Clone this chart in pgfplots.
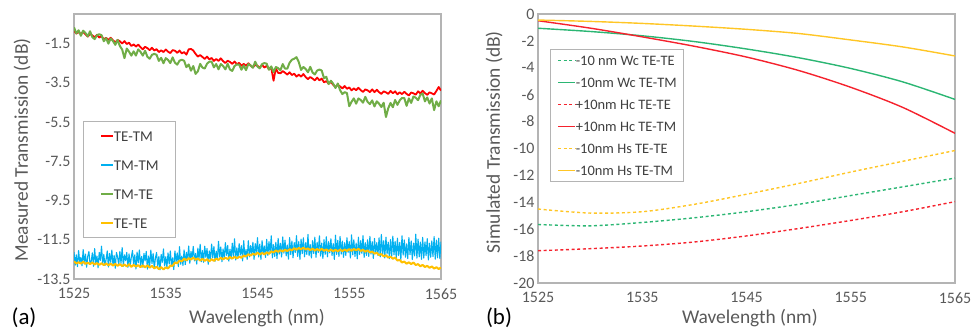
\documentclass[border=0pt]{standalone}
\usepackage{fontspec}
\setmainfont{Carlito}
\usepackage{pgfplots}
\usepackage{pgfplotstable}
\pgfplotsset{compat=1.18}
\definecolor{axgray}{HTML}{B4B4B4}
\definecolor{txgray}{HTML}{595959}
\definecolor{lgtext}{HTML}{404040}
\definecolor{cred}{HTML}{FF0000}
\definecolor{cblue}{HTML}{00B0F0}
\definecolor{cgreen}{HTML}{70AD47}
\definecolor{corange}{HTML}{FFC000}
\definecolor{bgreen}{HTML}{2BB673}
\definecolor{bred}{HTML}{F5222D}
\definecolor{byellow}{HTML}{FFC626}

\pgfplotstableread{
x r g o
1525.00 -0.84 -0.68 -12.60
1525.25 -1.00 -0.99 -12.71
1525.50 -0.92 -0.83 -12.65
1525.75 -1.02 -1.11 -12.71
1526.00 -0.91 -0.85 -12.62
1526.25 -1.04 -0.97 -12.73
1526.50 -1.15 -1.14 -12.67
1526.75 -1.02 -0.88 -12.74
1527.00 -1.09 -1.18 -12.66
1527.25 -1.19 -1.28 -12.76
1527.50 -1.06 -1.08 -12.69
1527.75 -1.20 -1.03 -12.78
1528.00 -1.12 -1.08 -12.70
1528.25 -1.29 -1.39 -12.79
1528.50 -1.21 -1.23 -12.71
1528.75 -1.32 -1.51 -12.80
1529.00 -1.21 -1.25 -12.72
1529.25 -1.34 -1.38 -12.82
1529.50 -1.45 -1.57 -12.73
1529.75 -1.32 -1.32 -12.83
1530.00 -1.39 -1.63 -12.74
1530.25 -1.50 -1.81 -12.84
1530.50 -1.38 -2.25 -12.76
1530.75 -1.53 -1.76 -12.86
1531.00 -1.46 -1.92 -12.75
1531.25 -1.63 -2.12 -12.88
1531.50 -1.55 -1.90 -12.78
1531.75 -1.66 -2.12 -12.87
1532.00 -1.56 -1.80 -12.79
1532.25 -1.69 -1.93 -12.90
1532.50 -1.80 -2.12 -12.80
1532.75 -1.67 -1.87 -12.91
1533.00 -1.74 -2.18 -12.80
1533.25 -1.84 -2.28 -12.92
1533.50 -1.72 -2.08 -12.83
1533.75 -1.86 -2.03 -12.96
1534.00 -1.79 -2.08 -12.87
1534.25 -1.94 -2.39 -13.00
1534.50 -1.85 -2.23 -12.90
1534.75 -1.94 -2.51 -13.01
1535.00 -1.81 -2.25 -12.91
1535.25 -1.92 -2.34 -12.96
1535.50 -1.99 -2.50 -12.82
1535.75 -1.84 -2.21 -12.83
1536.00 -1.87 -2.48 -12.66
1536.25 -1.98 -2.58 -12.70
1536.50 -1.86 -2.38 -12.56
1536.75 -2.01 -2.33 -12.60
1537.00 -1.94 -2.38 -12.46
1537.25 -2.07 -2.71 -12.55
1537.50 -1.80 -2.57 -12.44
1537.75 -1.78 -2.89 -12.51
1538.00 -1.86 -2.65 -12.41
1538.25 -2.03 -3.05 -12.52
1538.50 -2.17 -2.92 -12.45
1538.75 -2.09 -2.54 -12.56
1539.00 -2.19 -2.73 -12.47
1539.25 -2.29 -2.78 -12.58
1539.50 -2.17 -2.53 -12.49
1539.75 -2.31 -2.43 -12.60
1540.00 -2.24 -2.43 -12.49
1540.25 -2.39 -2.72 -12.58
1540.50 -2.29 -2.55 -12.46
1540.75 -2.39 -2.82 -12.53
1541.00 -2.26 -2.55 -12.42
1541.25 -2.40 -2.65 -12.50
1541.50 -2.50 -2.82 -12.41
1541.75 -2.38 -2.54 -12.48
1542.00 -2.44 -2.83 -12.38
1542.25 -2.54 -2.90 -12.46
1542.50 -2.42 -2.65 -12.37
1542.75 -2.56 -2.57 -12.45
1543.00 -2.49 -2.58 -12.36
1543.25 -2.64 -2.84 -12.42
1543.50 -2.54 -2.62 -12.30
1543.75 -2.64 -2.86 -12.35
1544.00 -2.51 -2.55 -12.24
1544.25 -2.63 -2.62 -12.31
1544.50 -2.72 -2.74 -12.21
1544.75 -2.59 -2.43 -12.27
1545.00 -2.64 -2.68 -12.16
1545.25 -2.73 -2.77 -12.25
1545.50 -2.59 -2.55 -12.17
1545.75 -2.73 -2.50 -12.25
1546.00 -2.64 -2.53 -12.14
1546.25 -2.82 -2.84 -12.22
1546.50 -2.74 -2.67 -12.09
1546.75 -3.40 -2.96 -12.15
1547.00 -2.76 -2.70 -12.04
1547.25 -3.00 -2.76 -12.12
1547.50 -3.02 -2.87 -12.03
1547.75 -2.91 -2.55 -12.10
1548.00 -2.99 -2.78 -12.01
1548.25 -3.09 -2.78 -12.08
1548.50 -2.97 -2.48 -11.98
1548.75 -3.11 -2.33 -12.04
1549.00 -3.04 -2.28 -11.93
1549.25 -3.19 -2.20 -12.01
1549.50 -3.09 -2.45 -11.92
1549.75 -3.19 -2.85 -11.99
1550.00 -3.06 -2.70 -11.90
1550.25 -3.21 -2.80 -12.00
1550.50 -3.32 -2.97 -11.94
1550.75 -3.21 -2.69 -12.03
1551.00 -3.29 -2.98 -11.95
1551.25 -3.38 -3.08 -12.05
1551.50 -3.24 -2.88 -11.97
1551.75 -3.38 -2.83 -12.05
1552.00 -3.29 -2.88 -11.96
1552.25 -3.48 -3.27 -12.06
1552.50 -3.42 -3.20 -11.99
1552.75 -3.55 -3.57 -12.08
1553.00 -3.46 -3.40 -12.00
1553.25 -3.61 -3.55 -12.09
1553.50 -3.72 -3.77 -12.01
1553.75 -3.61 -3.54 -12.09
1554.00 -3.69 -3.88 -12.00
1554.25 -3.79 -4.08 -12.08
1554.50 -3.67 -3.98 -12.00
1554.75 -3.81 -4.03 -12.07
1555.00 -3.74 -4.70 -11.98
1555.25 -3.89 -4.47 -12.06
1555.50 -3.79 -4.30 -11.97
1555.75 -3.88 -4.57 -12.04
1556.00 -3.76 -4.30 -11.96
1556.25 -3.88 -4.38 -12.07
1556.50 -3.97 -4.52 -12.01
1556.75 -3.84 -4.22 -12.11
1557.00 -3.89 -4.48 -12.04
1557.25 -3.98 -4.59 -12.15
1557.50 -3.84 -4.40 -12.10
1557.75 -3.98 -4.71 -12.21
1558.00 -3.86 -4.45 -12.16
1558.25 -3.98 -4.57 -12.28
1558.50 -4.07 -4.74 -12.23
1558.75 -3.94 -4.52 -12.35
1559.00 -3.99 -5.25 -12.29
1559.25 -4.07 -4.80 -12.41
1559.50 -3.92 -4.53 -12.36
1559.75 -4.04 -4.75 -12.47
1560.00 -3.94 -4.38 -12.41
1560.25 -4.09 -4.63 -12.56
1560.50 -3.99 -4.40 -12.53
1560.75 -4.08 -4.28 -12.66
1561.00 -3.96 -4.28 -12.61
1561.25 -4.07 -4.68 -12.72
1561.50 -4.15 -4.30 -12.65
1561.75 -4.00 -4.53 -12.74
1562.00 -4.04 -4.20 -12.66
1562.25 -4.11 -4.27 -12.79
1562.50 -3.94 -4.39 -12.74
1562.75 -4.05 -4.12 -12.85
1563.00 -3.91 -4.05 -12.78
1563.25 -4.03 -4.45 -12.89
1563.50 -4.12 -4.25 -12.83
1563.75 -3.99 -4.56 -12.93
1564.00 -4.04 -4.30 -12.86
1564.25 -4.10 -4.90 -12.97
1564.50 -3.92 -4.45 -12.90
1564.75 -3.72 -4.70 -12.99
1565.00 -3.90 -4.40 -12.92
}\measured

\pgfplotstableread{
x b
1525.000 -12.13
1525.125 -12.80
1525.250 -12.27
1525.375 -12.87
1525.500 -12.05
1525.625 -12.65
1525.750 -12.40
1525.875 -12.83
1526.000 -12.00
1526.125 -12.73
1526.250 -12.23
1526.375 -12.90
1526.500 -12.35
1526.625 -12.10
1526.750 -12.75
1526.875 -12.60
1527.000 -12.17
1527.125 -12.85
1527.250 -11.95
1527.375 -12.67
1527.500 -12.33
1527.625 -12.93
1527.750 -12.15
1527.875 -12.55
1528.000 -11.83
1528.125 -12.75
1528.250 -12.25
1528.375 -12.81
1528.500 -12.50
1528.625 -12.07
1528.750 -12.89
1528.875 -12.20
1529.000 -12.65
1529.125 -12.03
1529.250 -12.80
1529.375 -12.30
1529.500 -12.95
1529.625 -12.15
1529.750 -12.37
1529.875 -12.78
1530.000 -12.09
1530.125 -12.70
1530.250 -11.90
1530.375 -12.85
1530.500 -12.27
1530.625 -12.57
1530.750 -12.15
1530.875 -12.91
1531.000 -12.22
1531.125 -12.85
1531.250 -12.37
1531.375 -12.05
1531.500 -12.77
1531.625 -12.27
1531.750 -12.99
1531.875 -12.13
1532.000 -12.68
1532.125 -12.02
1532.250 -12.82
1532.375 -12.35
1532.500 -12.90
1532.625 -12.20
1532.750 -12.58
1532.875 -12.10
1533.000 -13.00
1533.125 -12.33
1533.250 -12.85
1533.375 -12.03
1533.500 -12.71
1533.625 -12.20
1533.750 -12.97
1533.875 -12.43
1534.000 -12.15
1534.125 -12.90
1534.250 -12.35
1534.375 -13.03
1534.500 -12.25
1534.625 -12.65
1534.750 -11.97
1534.875 -12.83
1535.000 -12.37
1535.125 -12.92
1535.250 -12.17
1535.375 -12.74
1535.500 -12.07
1535.625 -12.84
1535.750 -12.42
1535.875 -13.02
1536.000 -12.07
1536.125 -12.63
1536.250 -12.17
1536.375 -12.87
1536.500 -11.85
1536.625 -12.75
1536.750 -12.33
1536.875 -12.81
1537.000 -12.02
1537.125 -12.77
1537.250 -12.14
1537.375 -12.57
1537.500 -11.82
1537.625 -12.70
1537.750 -12.10
1537.875 -12.44
1538.000 -11.84
1538.125 -12.58
1538.250 -12.20
1538.375 -12.74
1538.500 -11.93
1538.625 -12.48
1538.750 -11.73
1538.875 -12.62
1539.000 -12.05
1539.125 -12.65
1539.250 -11.83
1539.375 -12.40
1539.500 -11.95
1539.625 -12.75
1539.750 -12.07
1539.875 -12.53
1540.000 -11.72
1540.125 -12.42
1540.250 -11.85
1540.375 -12.60
1540.500 -12.08
1540.625 -12.52
1540.750 -11.58
1540.875 -12.38
1541.000 -11.87
1541.125 -12.62
1541.250 -11.97
1541.375 -12.47
1541.500 -11.65
1541.625 -12.29
1541.750 -11.79
1541.875 -12.59
1542.000 -11.98
1542.125 -12.48
1542.250 -11.68
1542.375 -12.38
1542.500 -11.45
1542.625 -12.53
1542.750 -11.91
1542.875 -12.43
1543.000 -11.70
1543.125 -12.28
1543.250 -11.80
1543.375 -12.58
1543.500 -11.55
1543.625 -12.38
1543.750 -12.00
1543.875 -12.50
1544.000 -11.55
1544.125 -12.37
1544.250 -11.80
1544.375 -12.25
1544.500 -11.63
1544.625 -12.50
1544.750 -11.70
1544.875 -12.20
1545.000 -11.40
1545.125 -12.38
1545.250 -11.72
1545.375 -12.50
1545.500 -11.55
1545.625 -12.22
1545.750 -11.82
1545.875 -12.40
1546.000 -11.48
1546.125 -12.30
1546.250 -11.60
1546.375 -12.18
1546.500 -11.30
1546.625 -12.42
1546.750 -11.75
1546.875 -12.35
1547.000 -11.63
1547.125 -12.46
1547.250 -11.43
1547.375 -12.23
1547.500 -11.68
1547.625 -12.38
1547.750 -11.36
1547.875 -12.18
1548.000 -11.52
1548.125 -12.32
1548.250 -11.77
1548.375 -12.49
1548.500 -11.39
1548.625 -12.25
1548.750 -11.57
1548.875 -12.42
1549.000 -11.65
1549.125 -12.15
1549.250 -11.29
1549.375 -12.35
1549.500 -11.60
1549.625 -12.50
1549.750 -11.47
1549.875 -12.20
1550.000 -11.40
1550.125 -12.37
1550.250 -11.65
1550.375 -12.25
1550.500 -11.23
1550.625 -12.31
1550.750 -11.75
1550.875 -12.43
1551.000 -11.55
1551.125 -12.20
1551.250 -11.37
1551.375 -12.40
1551.500 -11.63
1551.625 -12.15
1551.750 -11.30
1551.875 -12.33
1552.000 -11.67
1552.125 -12.45
1552.250 -11.50
1552.375 -12.25
1552.500 -11.35
1552.625 -12.37
1552.750 -11.60
1552.875 -12.17
1553.000 -11.45
1553.125 -12.30
1553.250 -11.70
1553.375 -12.50
1553.500 -11.27
1553.625 -12.25
1553.750 -11.53
1553.875 -12.35
1554.000 -11.33
1554.125 -12.23
1554.250 -11.57
1554.375 -12.40
1554.500 -11.65
1554.625 -12.30
1554.750 -11.40
1554.875 -12.15
1555.000 -11.60
1555.125 -12.43
1555.250 -11.25
1555.375 -12.27
1555.500 -11.50
1555.625 -12.35
1555.750 -11.67
1555.875 -12.47
1556.000 -11.37
1556.125 -12.25
1556.250 -11.55
1556.375 -12.20
1556.500 -11.29
1556.625 -12.40
1556.750 -11.65
1556.875 -12.30
1557.000 -11.50
1557.125 -12.35
1557.250 -11.33
1557.375 -12.23
1557.500 -11.60
1557.625 -12.45
1557.750 -11.43
1557.875 -12.17
1558.000 -11.65
1558.125 -12.30
1558.250 -11.40
1558.375 -12.37
1558.500 -11.23
1558.625 -12.25
1558.750 -11.55
1558.875 -12.43
1559.000 -11.37
1559.125 -12.22
1559.250 -11.62
1559.375 -12.47
1559.500 -11.49
1559.625 -12.35
1559.750 -11.32
1559.875 -12.27
1560.000 -11.58
1560.125 -12.45
1560.250 -11.42
1560.375 -12.30
1560.500 -11.64
1560.625 -12.52
1560.750 -11.30
1560.875 -12.28
1561.000 -11.51
1561.125 -12.39
1561.250 -11.71
1561.375 -12.46
1561.500 -11.39
1561.625 -12.26
1561.750 -11.56
1561.875 -12.51
1562.000 -11.67
1562.125 -12.32
1562.250 -11.22
1562.375 -12.44
1562.500 -11.47
1562.625 -12.37
1562.750 -11.62
1562.875 -12.50
1563.000 -11.38
1563.125 -12.43
1563.250 -11.61
1563.375 -12.31
1563.500 -11.45
1563.625 -12.53
1563.750 -11.68
1563.875 -12.39
1564.000 -11.56
1564.125 -12.36
1564.250 -11.34
1564.375 -12.49
1564.500 -11.52
1564.625 -12.42
1564.750 -11.42
1564.875 -12.46
1565.000 -11.60
}\tmtm

\pgfplotstableread{
x wcte wctm hcte hctm hste hstm
1525 -15.65 -1.06 -17.60 -0.50 -14.50 -0.45
1530 -15.75 -1.30 -17.45 -1.05 -14.80 -0.55
1535 -15.50 -1.62 -17.25 -1.70 -14.70 -0.70
1540 -15.15 -2.05 -16.95 -2.40 -14.15 -0.90
1545 -14.70 -2.60 -16.50 -3.20 -13.40 -1.14
1550 -14.15 -3.25 -15.95 -4.20 -12.60 -1.45
1555 -13.50 -4.05 -15.35 -5.45 -11.75 -1.93
1560 -12.85 -5.05 -14.70 -6.95 -10.95 -2.45
1565 -12.20 -6.35 -13.95 -8.87 -10.15 -3.12
}\simulated

\pgfplotsset{
  common/.style={
    scale only axis, anchor=south west,
    xmin=1525, xmax=1565,
    xtick={1525,1535,1545,1555,1565},
    xticklabels={1525,1535,1545,1555,1565},
    major tick length=0pt,
    axis line style={draw=axgray, line width=1.2bp},
    tick label style={font=\fontsize{16}{19}\selectfont, text=txgray},
    xticklabel style={yshift=-6bp},
    label style={font=\fontsize{19.5}{23}\selectfont, text=txgray},
    xlabel={Wavelength (nm)},
    legend cell align=left,
  }
}

\begin{document}
\begin{tikzpicture}
\useasboundingbox (0bp,0bp) rectangle (974bp,329bp);
% ---------- (a) ----------
\begin{axis}[common,
  at={(74bp,50bp)}, width=367bp, height=265bp,
  ymin=-13.5, ymax=0,
  ytick={-13.5,-11.5,-9.5,-7.5,-5.5,-3.5,-1.5},
  yticklabels={-13.5,-11.5,-9.5,-7.5,-5.5,-3.5,-1.5},
  ylabel={Measured Transmission (dB)},
  xlabel style={at={(axis description cs:0.4986,-0.147)}, anchor=center},
  ylabel style={at={(axis description cs:-0.1417,0.487)}, anchor=center},
  legend image code/.code={\draw[#1, line width=1.5bp] (0bp,0bp) -- (12bp,0bp);},
  legend style={draw=axgray, line width=0.8bp, at={(0.0245,0.596)}, anchor=north west,
    font=\fontsize{15}{18}\selectfont, text=lgtext,
    inner xsep=17bp, inner ysep=0bp, row sep=0bp,
    nodes={inner xsep=0bp, inner ysep=0bp, text height=20.5bp, text depth=8.5bp}},
  every axis plot/.append style={line join=round},
]
\addplot[cred, line width=1.8bp] table[x=x, y=r] {\measured};
\addlegendentry{TE-TM}
\addplot[cblue, line width=1.1bp] table[x=x, y=b] {\tmtm};
\addlegendentry{TM-TM}
\addplot[cgreen, line width=2.0bp] table[x=x, y=g] {\measured};
\addlegendentry{TM-TE}
\addplot[corange, line width=2.0bp] table[x=x, y=o] {\measured};
\addlegendentry{TE-TE}
\end{axis}
\node[font=\fontsize{23}{27}\selectfont, text=black] at (24bp,11bp) {(a)};
% ---------- (b) ----------
\begin{axis}[common,
  at={(538bp,46bp)}, width=417bp, height=269bp,
  ymin=-20, ymax=0,
  ytick={-20,-18,-16,-14,-12,-10,-8,-6,-4,-2,0},
  yticklabels={-20,-18,-16,-14,-12,-10,-8,-6,-4,-2,0},
  ylabel={Simulated Transmission (dB)},
  xlabel style={at={(axis description cs:0.508,-0.130)}, anchor=center},
  ylabel style={at={(axis description cs:-0.1055,0.524)}, anchor=center},
  legend image code/.code={\draw[#1, line width=1.4bp] (0bp,0bp) -- (17bp,0bp);},
  legend style={draw=axgray, line width=0.8bp, at={(0.0288,0.870)}, anchor=north west,
    font=\fontsize{14.5}{17}\selectfont, text=lgtext,
    inner xsep=7bp, inner ysep=0bp, row sep=0bp,
    nodes={inner xsep=0bp, inner ysep=0bp, text height=16bp, text depth=6bp}},
  every axis plot/.append style={line width=1.4bp, smooth},
]
\addplot[bgreen, dash pattern=on 3bp off 2.6bp] table[x=x, y=wcte] {\simulated};
\addlegendentry{-10 nm Wc TE-TE}
\addplot[bgreen] table[x=x, y=wctm] {\simulated};
\addlegendentry{-10nm Wc TE-TM}
\addplot[bred, dash pattern=on 3bp off 2.6bp] table[x=x, y=hcte] {\simulated};
\addlegendentry{+10nm Hc TE-TE}
\addplot[bred] table[x=x, y=hctm] {\simulated};
\addlegendentry{+10nm Hc TE-TM}
\addplot[byellow, dash pattern=on 3bp off 2.6bp] table[x=x, y=hste] {\simulated};
\addlegendentry{-10nm Hs TE-TE}
\addplot[byellow] table[x=x, y=hstm] {\simulated};
\addlegendentry{-10nm Hs TE-TM}
\end{axis}
\node[font=\fontsize{23}{27}\selectfont, text=black] at (499bp,11bp) {(b)};
\end{tikzpicture}
\end{document}
